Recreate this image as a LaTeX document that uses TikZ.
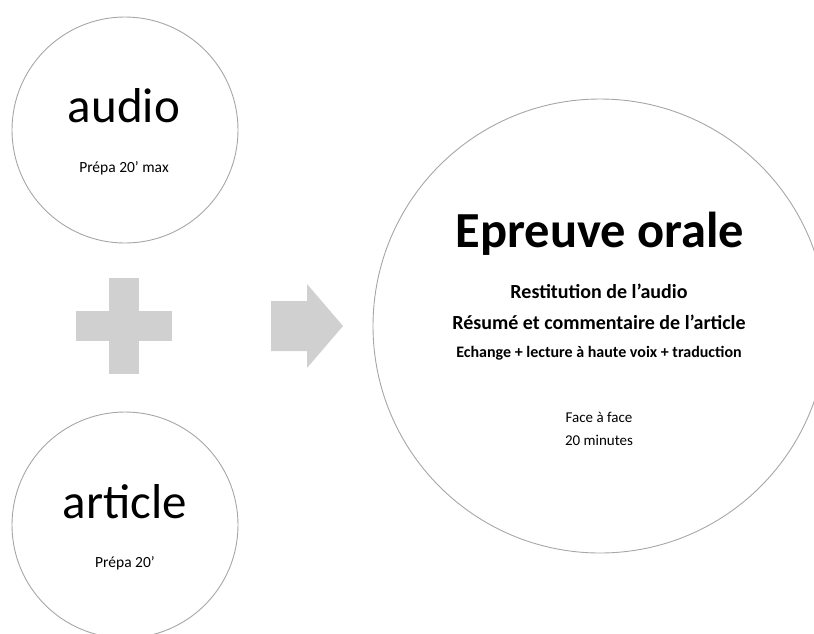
\documentclass[tikz,border=0pt]{standalone}
\usepackage{fontspec}
\setmainfont{Carlito}
\usetikzlibrary{positioning}
\definecolor{ringgray}{HTML}{A6A6A6}
\definecolor{signgray}{HTML}{D0D0D0}

\begin{document}
\begin{tikzpicture}[x=1pt,y=-1pt]
\tikzset{ring/.style = {shape=circle,draw=ringgray,line width=0.9pt,inner sep=0pt}}
\tikzset{txt/.style = {anchor=base,inner sep=0pt}}
\tikzset{sign/.style = {fill=signgray,draw=none}}
\useasboundingbox (0,0) rectangle (814,633);
\clip (0,0) rectangle (814,633);
% circles
\node[ring,minimum size=226pt] (audio)   at (125,130) {};
\node[ring,minimum size=226pt] (article) at (125,525) {};
\node[ring,minimum size=454pt] (orale)   at (600,326) {};
% signs
\fill[sign] (76,311) rectangle (172,341);
\fill[sign] (109,278) rectangle (139,374);
\fill[sign] (271,301) -- (307,301) -- (307,284) -- (343,326) -- (307,368) -- (307,351) -- (271,351) -- cycle;
% texts
\node[txt] (audiot)  at (124,122) {\fontsize{49}{58}\selectfont audio};
\node[txt] (audiop)  at (124,172) {\fontsize{15.5}{18}\selectfont Prépa 20’ max};
\node[txt] (articlet) at (125,518) {\fontsize{49}{58}\selectfont article};
\node[txt] (articlep) at (125,567) {\fontsize{15.5}{18}\selectfont Prépa 20’};
\node[txt] (titre)   at (600,247) {\fontsize{50.5}{60}\selectfont\bfseries Epreuve orale};
\node[txt] (resti)   at (599,298) {\fontsize{20}{24}\selectfont\bfseries Restitution de l’audio};
\node[txt] (resume)  at (599,329) {\fontsize{20}{24}\selectfont\bfseries Résumé et commentaire de l’article};
\node[txt] (echange) at (599,357) {\fontsize{16}{19}\selectfont\bfseries Echange + lecture à haute voix + traduction};
\node[txt] (face)    at (599,422) {\fontsize{15}{18}\selectfont Face à face};
\node[txt] (duree)   at (599,445) {\fontsize{15}{18}\selectfont 20 minutes};
\end{tikzpicture}
\end{document}
